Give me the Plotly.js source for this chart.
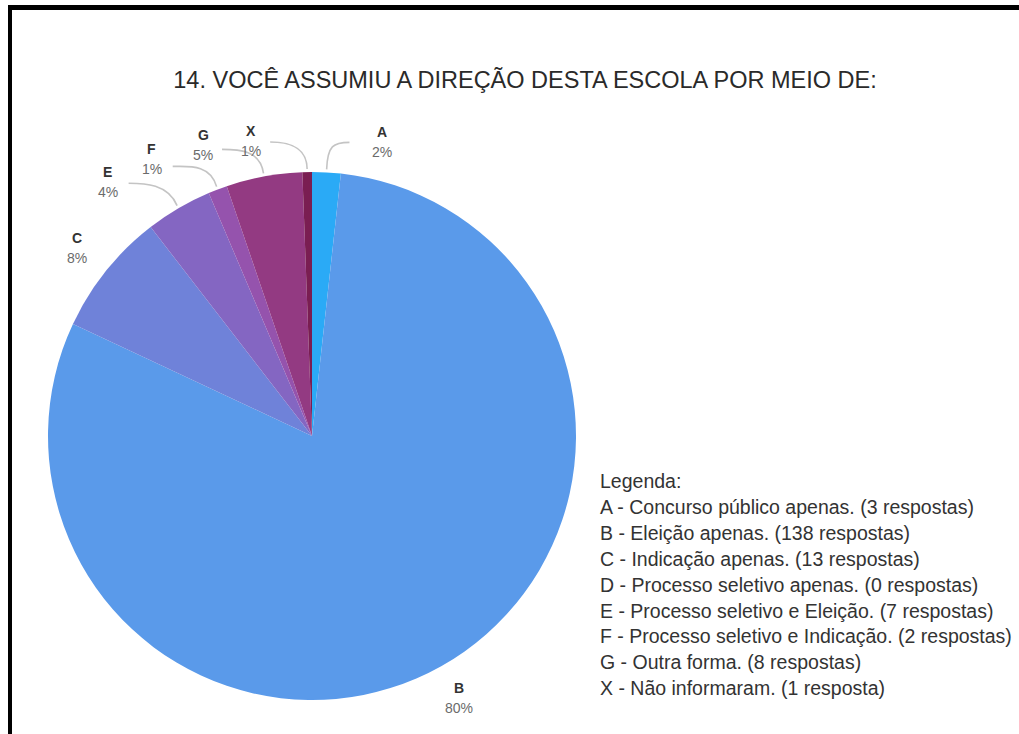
<!DOCTYPE html>
<html>
<head>
<meta charset="utf-8">
<script src="https://cdn.plot.ly/plotly-3.0.1.min.js"></script>
<style>html,body{margin:0;padding:0;background:#fff;}#chart{width:1019px;height:734px;}</style>
</head>
<body>
<div id="chart"></div>
<script>
// Data (drawn slices, clockwise from 12 o'clock)
const sliceLabels = ["A", "B", "C", "E", "F", "G", "X"];
const sliceValues = [3, 138, 13, 7, 2, 8, 1];
const sliceColors = ["#2AAAF6", "#5A9AEA", "#6F82D9", "#8466C2", "#9553AD", "#933A82", "#7A1E52"];

// Legend text
const legendCodes = ["A", "B", "C", "D", "E", "F", "G", "X"];
const legendDescriptions = [
  "Concurso público apenas.",
  "Eleição apenas.",
  "Indicação apenas.",
  "Processo seletivo apenas.",
  "Processo seletivo e Eleição.",
  "Processo seletivo e Indicação.",
  "Outra forma.",
  "Não informaram."
];
const legendCounts = [3, 138, 13, 0, 7, 2, 8, 1];

const titleText = "14. VOCÊ ASSUMIU A DIREÇÃO DESTA ESCOLA POR MEIO DE:";

// ---- layout / style (not data) ----
const W = 1019, H = 734;
const pieBox = { left: 48, right: 576, top: 172, bottom: 700 }; // pixel domain of the pie
// per-label placement nudges (pixels, relative to slice edge midpoint)
const labelShift = {
  A: [56, -30], B: [18, 32], C: [-29, -23], E: [-71, -26],
  F: [-66, -30], G: [-61, -31], X: [-56, -31]
};
// connector end (pixels, relative to slice edge midpoint); null = no connector
const connectorEnd = {
  A: [23, -30], B: null, C: null, E: [-50, -25],
  F: [-45, -23], G: [-42, -27], X: [-37, -30]
};
const FONT = "Liberation Sans, Arial, sans-serif";

const px = x => x / W;
const py = y => 1 - y / H;

const trace = {
  type: "pie",
  labels: sliceLabels,
  values: sliceValues,
  sort: false,
  direction: "clockwise",
  rotation: 0,
  marker: { colors: sliceColors, line: { width: 0 } },
  textinfo: "none",
  hoverinfo: "label+value+percent",
  showlegend: false,
  domain: { x: [px(pieBox.left), px(pieBox.right)], y: [py(pieBox.bottom), py(pieBox.top)] }
};

const cx = (pieBox.left + pieBox.right) / 2;
const cy = (pieBox.top + pieBox.bottom) / 2;
const R = Math.min(pieBox.right - pieBox.left, pieBox.bottom - pieBox.top) / 2;
const total = sliceValues.reduce((a, b) => a + b, 0);

const annotations = [];
const shapes = [];

let cum = 0;
sliceLabels.forEach((lab, i) => {
  const v = sliceValues[i];
  const mid = (cum + v / 2) / total * 2 * Math.PI;
  cum += v;
  const ux = Math.sin(mid), uy = -Math.cos(mid);
  const ex = cx + R * ux, ey = cy + R * uy;
  const pct = Math.round(v / total * 100) + "%";
  const s = labelShift[lab];
  annotations.push({
    xref: "paper", yref: "paper", x: px(ex), y: py(ey), xshift: s[0], yshift: -(s[1] - 10),
    xanchor: "center", yanchor: "middle", showarrow: false,
    text: "<b>" + lab + "</b>", font: { family: FONT, size: 14, color: "#333" }
  });
  annotations.push({
    xref: "paper", yref: "paper", x: px(ex), y: py(ey), xshift: s[0], yshift: -(s[1] + 10),
    xanchor: "center", yanchor: "middle", showarrow: false,
    text: pct, font: { family: FONT, size: 14, color: "#6b6b6b" }
  });
  const c = connectorEnd[lab];
  if (c) {
    const x0 = ex + ux * 3, y0 = ey + uy * 3;
    const x3 = ex + c[0], y3 = ey + c[1];
    const c1x = x0 + ux * 18, c1y = y0 + uy * 18 - 6;
    const c2x = x3 + (c[0] > 0 ? -16 : 16), c2y = y3;
    shapes.push({
      type: "path", xref: "paper", yref: "paper",
      path: `M ${px(x0)},${py(y0)} C ${px(c1x)},${py(c1y)} ${px(c2x)},${py(c2y)} ${px(x3)},${py(y3)}`,
      line: { color: "#c4c4c4", width: 1.6 }
    });
  }
});

annotations.push({
  xref: "paper", yref: "paper", x: px(598), y: py(481),
  xanchor: "left", yanchor: "middle", showarrow: false, align: "left",
  text: "Legenda:",
  font: { family: FONT, size: 19.5, color: "#333" }
});
legendCodes.forEach((c, i) => {
  const n = legendCounts[i];
  annotations.push({
    xref: "paper", yref: "paper", x: px(598), y: py(481 + 25.9 * (i + 1)),
    xanchor: "left", yanchor: "middle", showarrow: false, align: "left",
    text: c + " - " + legendDescriptions[i] + " (" + n + (n === 1 ? " resposta)" : " respostas)"),
    font: { family: FONT, size: 19.5, color: "#333" }
  });
});

// image frame (left and top edges)
shapes.push(
  { type: "rect", xref: "paper", yref: "paper", x0: px(8), x1: 1.01, y0: py(10), y1: py(5), fillcolor: "#000", line: { width: 0 } },
  { type: "rect", xref: "paper", yref: "paper", x0: px(8), x1: px(12), y0: -0.01, y1: py(5), fillcolor: "#000", line: { width: 0 } }
);

const layout = {
  width: W, height: H,
  margin: { l: 0, r: 0, t: 0, b: 0 },
  paper_bgcolor: "#ffffff",
  title: {
    text: titleText,
    x: px(525), xanchor: "center",
    y: py(80), yanchor: "middle",
    font: { family: FONT, size: 23.5, color: "#2a2a2a" }
  },
  annotations: annotations,
  shapes: shapes
};

Plotly.newPlot("chart", [trace], layout, { displayModeBar: false, staticPlot: true });
</script>
</body>
</html>
